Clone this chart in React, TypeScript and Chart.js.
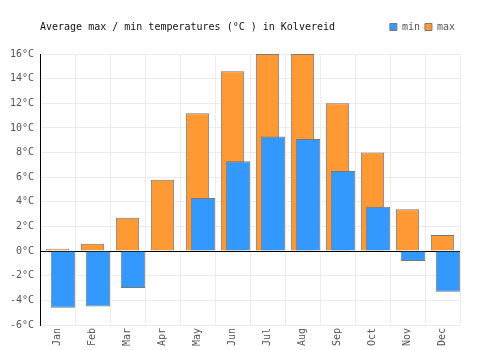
import React, { useEffect, useRef } from 'react';
import { Chart, registerables } from 'chart.js';

Chart.register(...registerables);

const months = ['Jan', 'Feb', 'Mar', 'Apr', 'May', 'Jun', 'Jul', 'Aug', 'Sep', 'Oct', 'Nov', 'Dec'];
const minTemps = [-4.6, -4.5, -3.0, 0, 4.3, 7.3, 9.3, 9.1, 6.5, 3.6, -0.8, -3.3];
const maxTemps = [0.2, 0.6, 2.7, 5.8, 11.2, 14.6, 16.0, 16.0, 12.0, 8.0, 3.4, 1.3];

const TITLE = 'Average max / min temperatures (°C ) in Kolvereid';
const BLUE = 'rgb(51,153,255)';
const ORANGE = 'rgb(255,153,51)';
const BORDER = 'rgb(120,120,120)';
const GRID = 'rgb(236,236,236)';
const TEXT = '#555';
const FONT = "'DejaVu Sans Mono', 'Liberation Mono', monospace";
// the min bars sit a little to the right of the max bars (fraction of a category)
const MIN_SHIFT = 0.157;

export default function App() {
  const ref = useRef<HTMLCanvasElement>(null);

  useEffect(() => {
    document.body.style.margin = '0';
    Chart.defaults.font.family = FONT;
    const chart = new Chart(ref.current as HTMLCanvasElement, {
      type: 'bar',
      data: {
        labels: months,
        datasets: [
          {
            label: 'min',
            data: minTemps.map((v, i) => ({ x: i, y: v })) as any,
            xAxisID: 'x2',
            grouped: false,
            backgroundColor: BLUE,
            borderColor: BORDER,
            borderWidth: 1,
            categoryPercentage: 1,
            barPercentage: 0.7,
          },
          {
            label: 'max',
            data: maxTemps,
            xAxisID: 'x',
            grouped: false,
            backgroundColor: ORANGE,
            borderColor: BORDER,
            borderWidth: 1,
            categoryPercentage: 1,
            barPercentage: 0.667,
          },
        ],
      },
      options: {
        animation: false,
        responsive: false,
        layout: { padding: { left: 0, right: 40, top: 17, bottom: 0 } },
        plugins: {
          legend: {
            position: 'top',
            align: 'end',
            labels: {
              boxWidth: 7,
              boxHeight: 7,
              padding: 5,
              color: TEXT,
              font: { size: 10 },
            },
          },
          title: {
            display: true,
            text: TITLE,
            align: 'start',
            fullSize: false,
            weight: 500,
            color: '#111',
            font: { size: 10, weight: 'normal' },
            padding: { top: -21, bottom: 21 },
          } as any,
          tooltip: { enabled: false },
        },
        scales: {
          x: {
            type: 'category',
            offset: true,
            grid: { offset: true, color: GRID, drawTicks: false },
            border: { display: false },
            ticks: {
              color: TEXT,
              font: { size: 10 },
              autoSkip: false,
              maxRotation: 90,
              minRotation: 90,
              padding: 3,
            },
            afterFit: (scale: any) => {
              scale.height = 25;
            },
          },
          x2: {
            type: 'linear',
            display: false,
            offset: false,
            min: -0.5 - MIN_SHIFT,
            max: months.length - 0.5 - MIN_SHIFT,
            grid: { display: false },
          },
          y: {
            min: -6,
            max: 16,
            grid: {
              color: (ctx: any) => (ctx.tick && ctx.tick.value === 0 ? '#000' : GRID),
              drawTicks: false,
            },
            border: { color: '#000', width: 1 },
            ticks: {
              stepSize: 2,
              color: TEXT,
              font: { size: 10 },
              padding: 6,
              callback: (v: any) => `${v}°C`,
            },
            afterFit: (scale: any) => {
              scale.width = 40;
            },
          },
        },
      },
    });
    return () => chart.destroy();
  }, []);

  return <canvas ref={ref} width={500} height={350} style={{ display: 'block' }} />;
}
